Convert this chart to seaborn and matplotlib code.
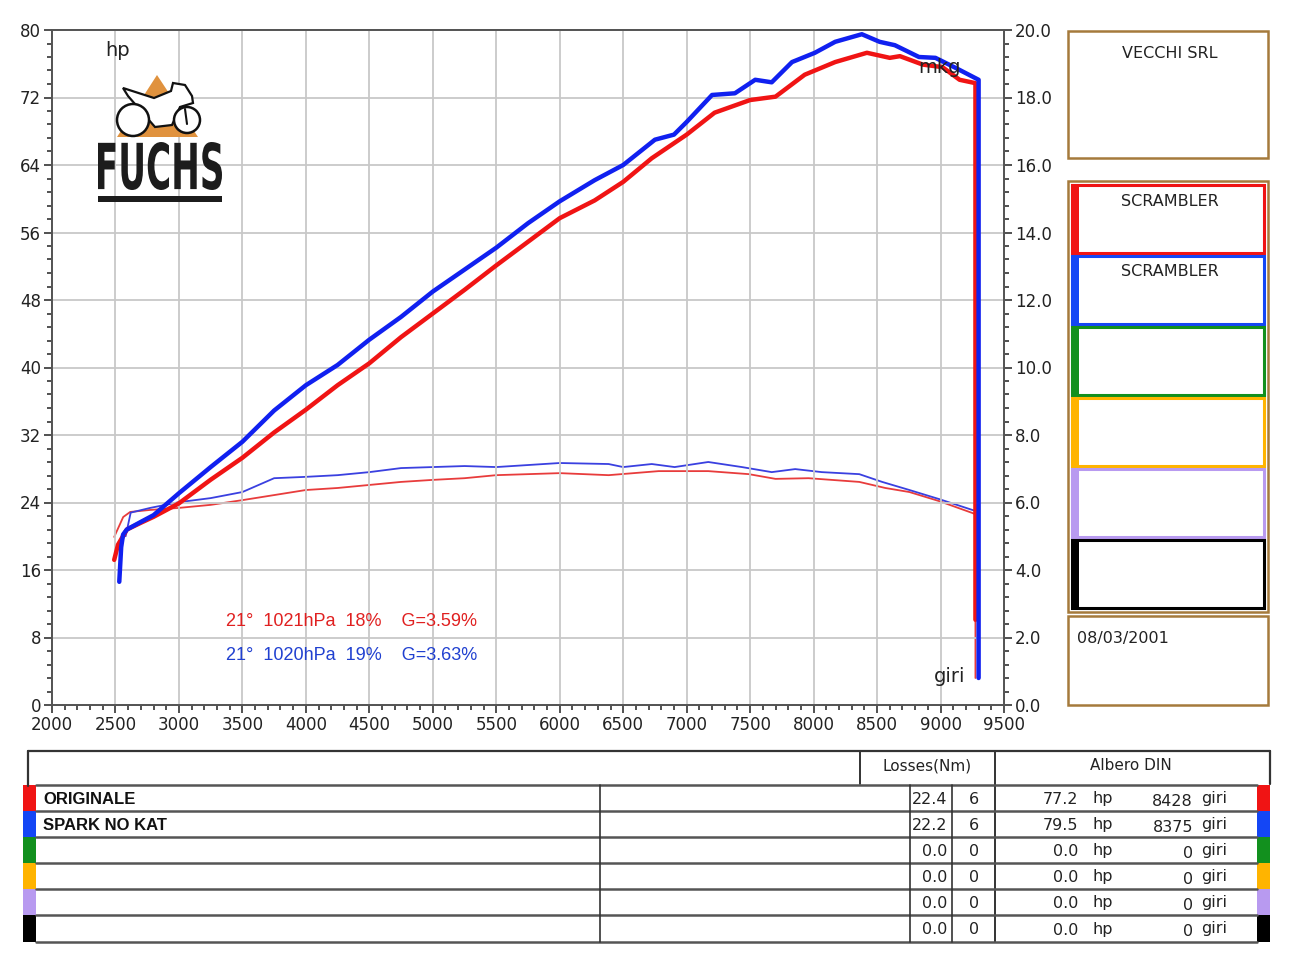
import numpy as np
import pandas as pd
import seaborn as sns
import matplotlib
matplotlib.use("Agg")
import matplotlib.pyplot as plt
from matplotlib.patches import Rectangle, Polygon, Circle, PathPatch
from matplotlib.textpath import TextPath
from matplotlib.font_manager import FontProperties
from matplotlib.transforms import Affine2D
from matplotlib.ticker import MultipleLocator

# ---------------- data ----------------
rpm_power_blue = [2530, 2545, 2560, 2590, 2700, 2800, 3000, 3250, 3500, 3750, 4000, 4250, 4500,
                  4750, 5000, 5250, 5500, 5750, 6000, 6275, 6500, 6750, 6900, 7000, 7200, 7380,
                  7540, 7670, 7830, 8010, 8170, 8380, 8520, 8640, 8830, 8960, 9120, 9300, 9300]
hp_blue = [14.6, 18.7, 20.2, 20.8, 21.7, 22.5, 25.1, 28.2, 31.2, 34.9, 37.9, 40.3, 43.3,
           46.0, 49.0, 51.6, 54.2, 57.1, 59.7, 62.2, 64.0, 67.0, 67.6, 69.1, 72.3, 72.5,
           74.1, 73.8, 76.2, 77.3, 78.6, 79.5, 78.6, 78.2, 76.8, 76.7, 75.5, 74.1, 3.2]

rpm_power_red = [2490, 2520, 2590, 2700, 2800, 3000, 3250, 3500, 3750, 4000, 4250, 4500, 4750,
                 5000, 5250, 5500, 5750, 6000, 6275, 6500, 6725, 7000, 7220, 7500, 7700, 7930,
                 8170, 8420, 8600, 8680, 8860, 9015, 9150, 9275, 9275]
hp_red = [17.2, 19.0, 20.8, 21.6, 22.3, 23.9, 26.7, 29.3, 32.3, 35.0, 37.9, 40.5, 43.6,
          46.4, 49.2, 52.1, 54.9, 57.7, 59.8, 62.0, 64.8, 67.6, 70.2, 71.7, 72.1, 74.7,
          76.2, 77.3, 76.7, 76.9, 75.9, 75.6, 74.1, 73.7, 10.1]

rpm_torque_blue = [2580, 2620, 2774, 3000, 3250, 3500, 3750, 4000, 4250, 4500, 4750, 5000,
                   5250, 5500, 5750, 6000, 6385, 6500, 6725, 6905, 7170, 7435, 7670, 7855,
                   8065, 8360, 8540, 8755, 8990, 9250, 9300, 9300]
mkg_blue = [5.0, 5.7, 5.84, 6.01, 6.13, 6.31, 6.72, 6.76, 6.81, 6.90, 7.02, 7.05,
            7.08, 7.05, 7.11, 7.17, 7.14, 7.05, 7.14, 7.05, 7.20, 7.05, 6.90, 6.99,
            6.90, 6.84, 6.61, 6.37, 6.10, 5.78, 5.72, 0.8]

rpm_torque_red = [2490, 2561, 2616, 2774, 3000, 3250, 3500, 3750, 4000, 4250, 4500, 4750,
                  5000, 5250, 5500, 5750, 6000, 6385, 6780, 7170, 7490, 7700, 7960, 8360,
                  8565, 8755, 8990, 9250, 9275, 9275]
mkg_red = [4.98, 5.57, 5.72, 5.78, 5.84, 5.93, 6.07, 6.22, 6.37, 6.43, 6.52, 6.61,
           6.67, 6.72, 6.81, 6.84, 6.87, 6.81, 6.93, 6.93, 6.84, 6.70, 6.72, 6.61,
           6.43, 6.31, 6.04, 5.69, 5.65, 0.8]

x_ticks = [2000, 2500, 3000, 3500, 4000, 4500, 5000, 5500, 6000, 6500, 7000, 7500, 8000, 8500, 9000, 9500]
hp_ticks = [0, 8, 16, 24, 32, 40, 48, 56, 64, 72, 80]
mkg_ticks = [0.0, 2.0, 4.0, 6.0, 8.0, 10.0, 12.0, 14.0, 16.0, 18.0, 20.0]

run_names = ["ORIGINALE", "SPARK NO KAT", "", "", "", ""]
run_colors = ["#f01414", "#1446f5", "#12901e", "#ffb400", "#b89af0", "#000000"]
losses = ["22.4", "22.2", "0.0", "0.0", "0.0", "0.0"]
gears = ["6", "6", "0", "0", "0", "0"]
peak_hp = ["77.2", "79.5", "0.0", "0.0", "0.0", "0.0"]
peak_rpm = ["8428", "8375", "0", "0", "0", "0"]
legend_labels = ["SCRAMBLER", "SCRAMBLER", "", "", "", ""]

RED = "#f01414"
BLUE = "#1020f0"
RED_T = "#e83c3c"
BLUE_T = "#3a40e0"

# ---------------- figure ----------------
sns.set_style("ticks")
plt.rcParams["font.family"] = ["DejaVu Sans"]

fig = plt.figure(figsize=(12.92, 9.69), dpi=100)
W, H = 1292, 969
L, R, T, B = 52, 1004, 30, 705
ax = fig.add_axes([L / W, 1 - B / H, (R - L) / W, (B - T) / H])
ax2 = ax.twinx()

df_pb = pd.DataFrame({"rpm": rpm_power_blue, "hp": hp_blue})
df_pr = pd.DataFrame({"rpm": rpm_power_red, "hp": hp_red})
df_tb = pd.DataFrame({"rpm": rpm_torque_blue, "mkg": mkg_blue})
df_tr = pd.DataFrame({"rpm": rpm_torque_red, "mkg": mkg_red})

sns.lineplot(data=df_tr, x="rpm", y="mkg", ax=ax2, color=RED_T, lw=1.3, sort=False, estimator=None)
sns.lineplot(data=df_tb, x="rpm", y="mkg", ax=ax2, color=BLUE_T, lw=1.3, sort=False, estimator=None)
sns.lineplot(data=df_pr, x="rpm", y="hp", ax=ax, color=RED, lw=3.2, sort=False, estimator=None)
sns.lineplot(data=df_pb, x="rpm", y="hp", ax=ax, color=BLUE, lw=3.2, sort=False, estimator=None)
ax.set_zorder(ax2.get_zorder() + 1)
ax.patch.set_visible(False)

ax.set_xlim(2000, 9500)
ax.set_ylim(0, 80)
ax2.set_ylim(0, 20)
ax.set_xlabel("")
ax.set_ylabel("")
ax2.set_ylabel("")
ax.set_xticks(x_ticks)
ax.set_xticklabels([str(v) for v in x_ticks], fontsize=12, color="#222222")
ax.set_yticks(hp_ticks)
ax.set_yticklabels([str(v) for v in hp_ticks], fontsize=12, color="#222222")
ax2.set_yticks(mkg_ticks)
ax2.set_yticklabels([f"{v:.1f}" for v in mkg_ticks], fontsize=12, color="#222222")
ax.xaxis.set_minor_locator(MultipleLocator(100))
ax.yaxis.set_minor_locator(MultipleLocator(1.6))
ax2.yaxis.set_minor_locator(MultipleLocator(0.4))
for a in (ax, ax2):
    a.tick_params(which="major", length=6, width=1.2, color="#333333", pad=2)
    a.tick_params(which="minor", length=3.5, width=1.2, color="#333333")
    for s in a.spines.values():
        s.set_color("#555555")
        s.set_linewidth(1.4)
ax.grid(True, which="major", color="#c8c8c8", lw=1.3)
ax.set_axisbelow(True)

# ---------------- overlay in pixel coordinates ----------------
ov = fig.add_axes([0, 0, 1, 1], zorder=20)
ov.set_xlim(0, W)
ov.set_ylim(H, 0)
ov.axis("off")
ov.patch.set_alpha(0)

ov.text(118, 50, "hp", fontsize=14, ha="center", va="center", color="#222222")
ov.text(940, 67, "mkg", fontsize=14, ha="center", va="center", color="#222222")
ov.text(950, 677, "giri", fontsize=14, ha="center", va="center", color="#222222")

# logo
ov.add_patch(Polygon([(157, 75), (117, 137), (198, 137)], closed=True, fc="#e0923e", ec="none"))
ov.add_patch(Polygon([(123, 88), (154, 98), (171, 91), (173, 83), (185, 85), (192, 96), (193, 103),
                      (180, 107), (172, 125), (155, 127), (128, 96)], closed=True,
                     fc="white", ec="#111111", lw=1.6))
ov.add_patch(Circle((133, 120), 16, fc="white", ec="#111111", lw=1.8))
ov.add_patch(Circle((187, 120), 13, fc="white", ec="#111111", lw=1.8))
ov.plot([185, 187], [109, 124], color="#111111", lw=1.5)
tp = TextPath((0, 0), "FUCHS", size=1, prop=FontProperties(family="DejaVu Sans", weight="bold"))
bb = tp.get_extents()
tr = Affine2D().translate(-bb.x0, -bb.y0).scale(124 / bb.width, -48 / bb.height).translate(98, 190) + ov.transData
ov.add_patch(PathPatch(tp, transform=tr, fc="#1c1c1c", ec="none"))
ov.add_patch(Rectangle((98, 196), 124, 6, fc="#1c1c1c", ec="none"))

# weather annotations
ann_font = ["Liberation Sans", "DejaVu Sans"]
ov.text(226, 622, "21°  1021hPa  18%    G=3.59%", fontsize=13, color="#e02020", va="center", family=ann_font)
ov.text(226, 655, "21°  1020hPa  19%    G=3.63%", fontsize=13, color="#2040d0", va="center", family=ann_font)

# right panels
BR = "#a57a3c"
ov.add_patch(Rectangle((1068, 31), 200, 127, fc="white", ec=BR, lw=1.8))
ov.text(1170, 53, "VECCHI SRL", fontsize=11.5, ha="center", va="center", color="#222222")
ov.add_patch(Rectangle((1068, 181), 200, 431, fc="white", ec=BR, lw=1.8))
box_tops = [185, 256, 327, 398, 469, 540]
for top, col, lab in zip(box_tops, run_colors, legend_labels):
    ov.add_patch(Rectangle((1072, top), 192, 68, fc="white", ec=col, lw=2.2))
    ov.add_patch(Rectangle((1071, top), 8, 69, fc=col, ec="none"))
    if lab:
        ov.text(1170, top + 16, lab, fontsize=11.5, ha="center", va="center", color="#222222")
ov.add_patch(Rectangle((1068, 616), 200, 89, fc="white", ec=BR, lw=1.8))
ov.text(1077, 638, "08/03/2001", fontsize=11.5, ha="left", va="center", color="#222222")

# bottom table
LC = "#333333"
ov.plot([28, 1270], [751, 751], color=LC, lw=1.6)
ov.plot([28, 28], [751, 786], color=LC, lw=1.6)
ov.plot([1270, 1270], [751, 784], color=LC, lw=1.6)
ov.plot([860, 860], [751, 784], color=LC, lw=1.4)
ov.plot([995, 995], [751, 942], color=LC, lw=1.4)
ov.text(927, 766, "Losses(Nm)", fontsize=11, ha="center", va="center", color="#222222")
ov.text(1131, 766, "Albero DIN", fontsize=11, ha="center", va="center", color="#222222")
row_lines = [785, 811, 837, 863, 889, 915, 942]
for y in row_lines:
    ov.plot([36, 1257], [y, y], color="#555555", lw=1.8)
ov.plot([600, 600], [785, 942], color=LC, lw=1.2)
ov.plot([910, 910], [785, 942], color=LC, lw=1.2)
ov.plot([952, 952], [785, 942], color=LC, lw=1.2)
name_font = ["Liberation Sans Narrow", "Liberation Sans", "DejaVu Sans"]
for i in range(6):
    y0, y1 = row_lines[i], row_lines[i + 1]
    yc = (y0 + y1) / 2
    col = run_colors[i]
    ov.add_patch(Rectangle((23, y0), 13, y1 - y0, fc=col, ec="none"))
    ov.add_patch(Rectangle((1257, y0), 13, y1 - y0, fc=col, ec="none"))
    if run_names[i]:
        ov.text(43, yc + 1, run_names[i], fontsize=12, fontweight="bold", ha="left", va="center",
                color="#111111", family=name_font)
    ov.text(947, yc + 1, losses[i], fontsize=11.5, ha="right", va="center", color="#222222")
    ov.text(974, yc + 1, gears[i], fontsize=11.5, ha="center", va="center", color="#222222")
    ov.text(1078, yc + 2, peak_hp[i], fontsize=11.5, ha="right", va="center", color="#222222")
    ov.text(1092, yc + 1, "hp", fontsize=11.5, ha="left", va="center", color="#222222")
    ov.text(1193, yc + 3, peak_rpm[i], fontsize=11.5, ha="right", va="center", color="#222222")
    ov.text(1201, yc, "giri", fontsize=11.5, ha="left", va="center", color="#222222")

fig.savefig("out.png", dpi=100, facecolor="white")
